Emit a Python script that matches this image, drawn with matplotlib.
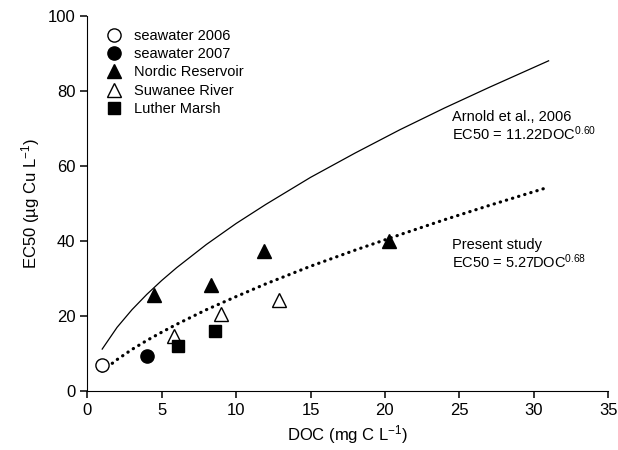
import matplotlib
matplotlib.use("Agg")
import matplotlib.pyplot as plt

plt.rcParams['font.family'] = ['Liberation Sans', 'DejaVu Sans']
plt.rcParams['mathtext.fontset'] = 'custom'
plt.rcParams['mathtext.rm'] = 'Liberation Sans'
plt.rcParams['mathtext.it'] = 'Liberation Sans'
plt.rcParams['mathtext.default'] = 'regular'

# measured points (DOC mg C/L, EC50 ug Cu/L)
sw2006_doc = [1.0]
sw2006_ec50 = [7.0]
sw2007_doc = [4.0]
sw2007_ec50 = [9.4]
nordic_doc = [4.5, 8.3, 11.9, 20.3]
nordic_ec50 = [25.5, 28.2, 37.3, 40.1]
suwanee_doc = [5.8, 9.0, 12.9]
suwanee_ec50 = [14.8, 20.5, 24.4]
luther_doc = [6.1, 8.6]
luther_ec50 = [12.0, 16.0]

# fitted curves
arnold_doc = [1, 2, 3, 4, 5, 6, 8, 10, 12, 15, 18, 21, 24, 27, 31]
arnold_ec50 = [11.2, 17.0, 21.7, 25.8, 29.5, 32.9, 39.1, 44.7, 49.8, 57.0, 63.5, 69.7, 75.5, 81.0, 88.1]
present_doc = [1, 2, 3, 4, 5, 6, 8, 10, 12, 15, 18, 21, 24, 27, 31]
present_ec50 = [5.3, 8.4, 11.1, 13.5, 15.7, 17.8, 21.7, 25.2, 28.6, 33.3, 37.6, 41.7, 45.7, 49.5, 54.4]

fig = plt.figure(figsize=(6.18, 4.5), dpi=100)
ax = fig.add_axes([0.1413, 0.131, 0.8427, 0.833])

ax.plot(arnold_doc, arnold_ec50, color='black', lw=0.9, zorder=2)
ax.plot(present_doc, present_ec50, color='black', lw=2.3,
        linestyle=(0, (0.1, 1.9)), dash_capstyle='round', zorder=2)

ms = 9.5
h1, = ax.plot(sw2006_doc, sw2006_ec50, 'o', ms=ms, mfc='white', mec='black', mew=1.0,
              ls='none', label='seawater 2006', zorder=3)
h2, = ax.plot(sw2007_doc, sw2007_ec50, 'o', ms=ms, mfc='black', mec='black',
              ls='none', label='seawater 2007', zorder=3)
h3, = ax.plot(nordic_doc, nordic_ec50, '^', ms=ms, mfc='black', mec='black',
              ls='none', label='Nordic Reservoir', zorder=3)
h4, = ax.plot(suwanee_doc, suwanee_ec50, '^', ms=ms, mfc='white', mec='black', mew=1.0,
              ls='none', label='Suwanee River', zorder=3)
h5, = ax.plot(luther_doc, luther_ec50, 's', ms=8.5, mfc='black', mec='black',
              ls='none', label='Luther Marsh', zorder=3)

ax.legend(handles=[h1, h2, h3, h4, h5], loc='upper left', frameon=False,
          fontsize=10.5, labelspacing=0.3, handlelength=1.0, handletextpad=0.9,
          borderaxespad=0.2, bbox_to_anchor=(0.02, 0.99))

# annotations placed in figure pixels (origin top-left in the reference)
H = 450
ax.text(452, H - 117, 'Arnold et al., 2006', transform=None, fontsize=10.5, va='center')
ax.text(452, H - 134, r'EC50 = 11.22DOC$^{0.60}$', transform=None, fontsize=10.5, va='center')
ax.text(452, H - 245, 'Present study', transform=None, fontsize=10.5, va='center')
ax.text(452, H - 262, r'EC50 = 5.27DOC$^{0.68}$', transform=None, fontsize=10.5, va='center')

ax.set_xlim(0, 35)
ax.set_ylim(0, 100)
ax.set_xticks(range(0, 36, 5))
ax.set_yticks(range(0, 101, 20))
ax.spines['top'].set_visible(False)
ax.spines['right'].set_visible(False)
ax.tick_params(direction='out', length=5, width=1.1, labelsize=12)
ax.set_xlabel(r'DOC (mg C L$^{-1}$)', fontsize=12)
ax.set_ylabel(r'EC50 (µg Cu L$^{-1}$)', fontsize=12)

fig.savefig('out.png', dpi=100)
